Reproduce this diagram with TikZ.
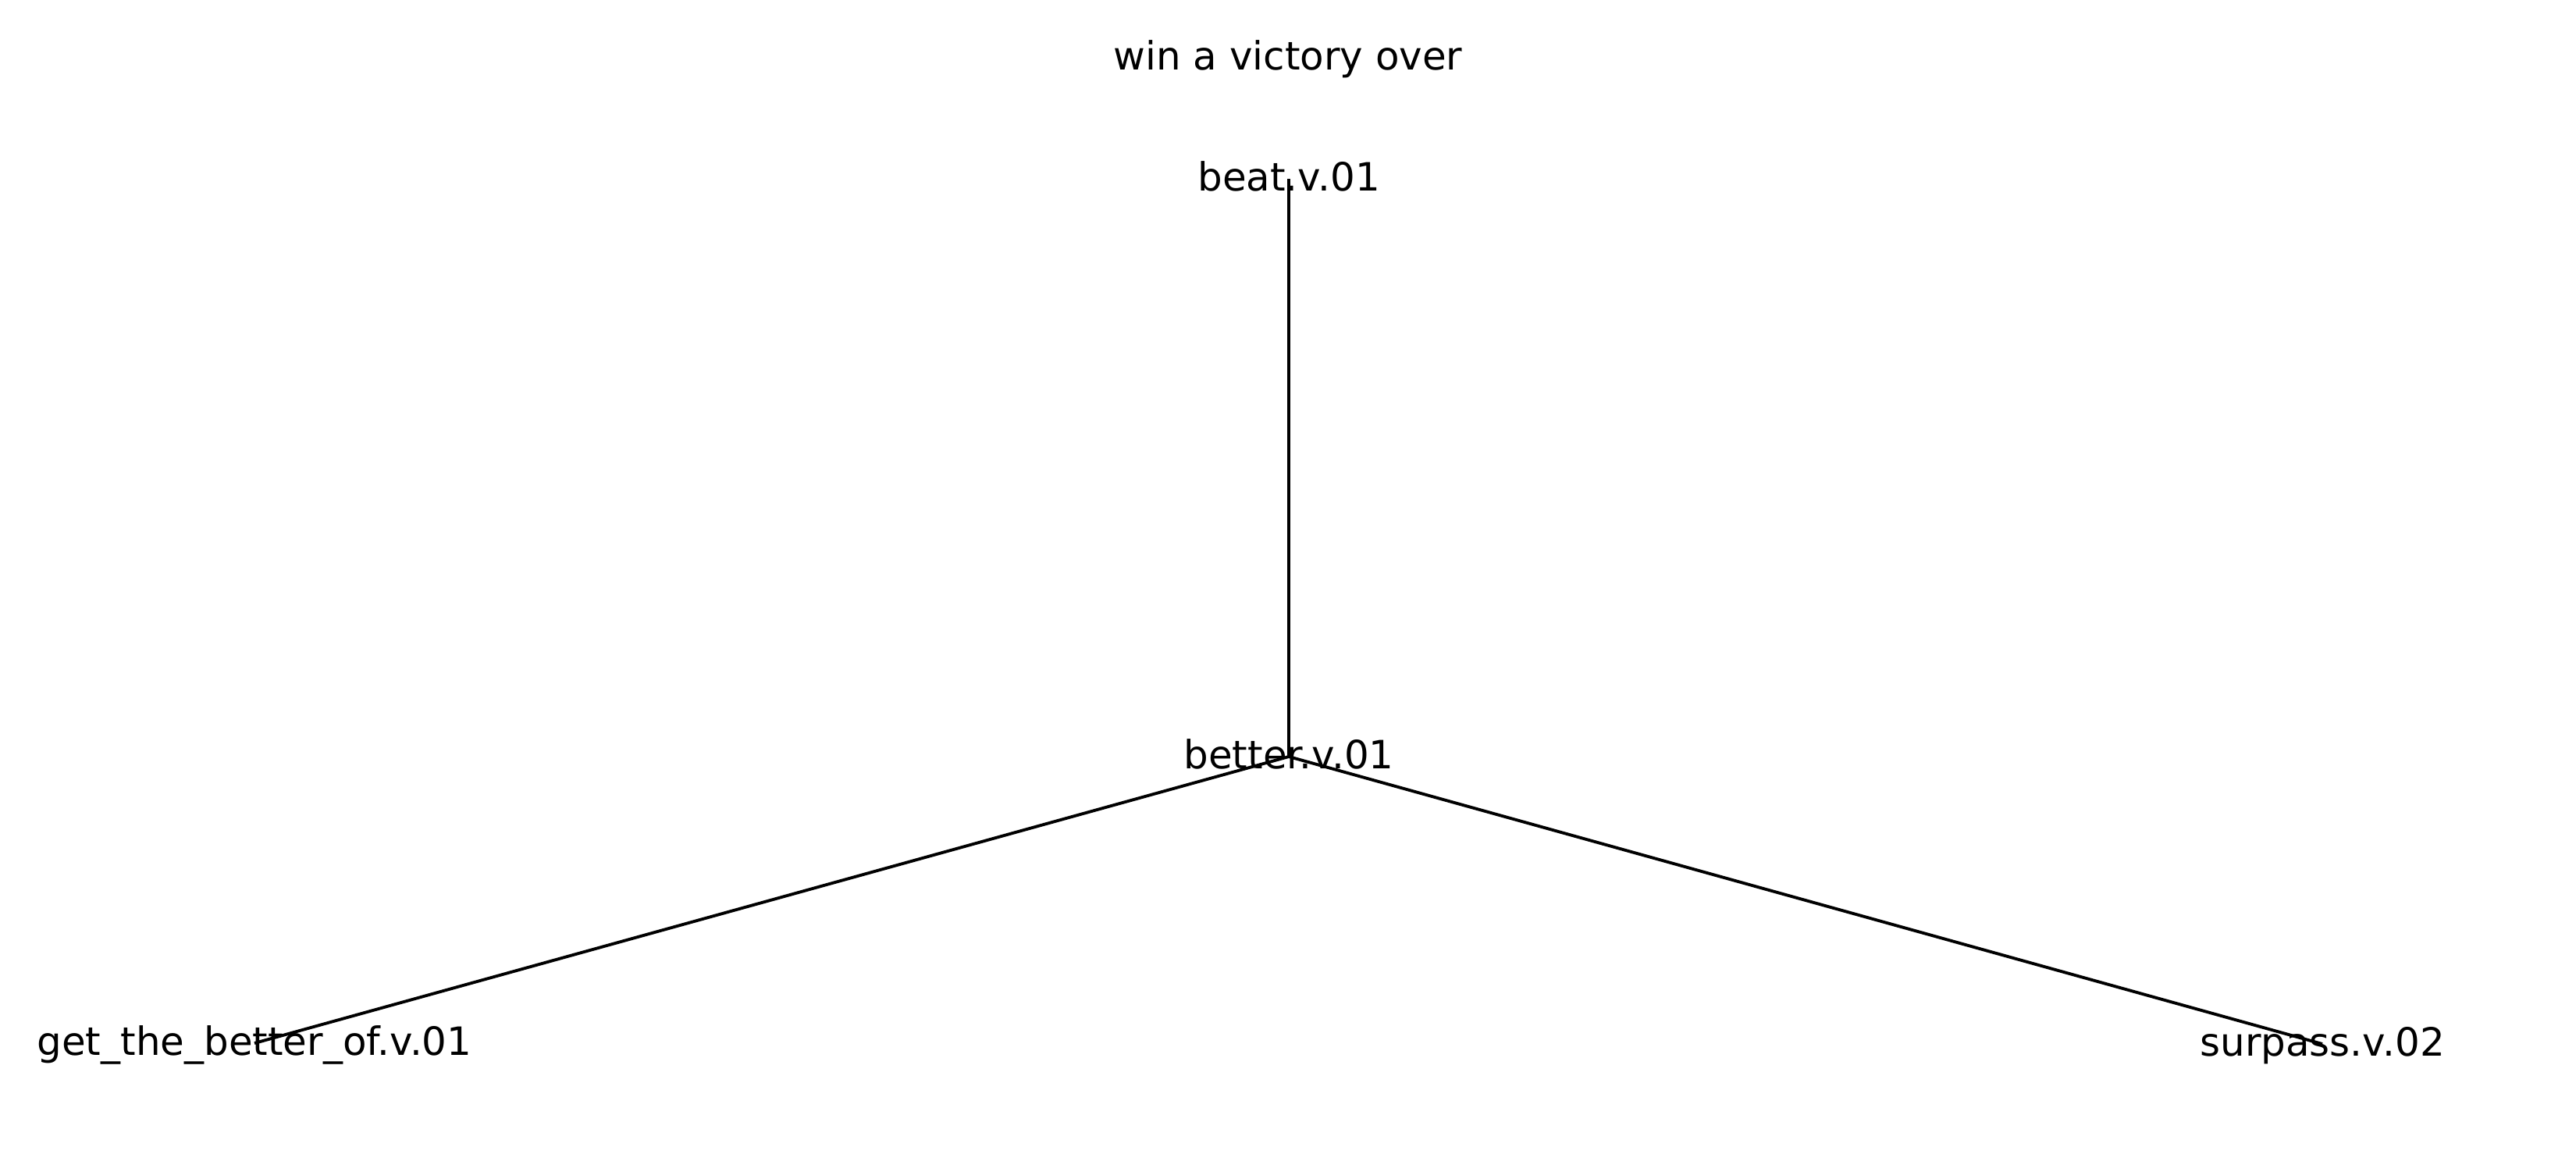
\documentclass[tikz,border=0pt]{standalone}
\usepackage{fontspec}
\setmainfont{DejaVu Sans}

\begin{document}
\begin{tikzpicture}[every node/.style={font=\fontsize{14.2}{17}\selectfont,inner sep=0pt,text height=10.8pt,text depth=2.2pt}]
    \useasboundingbox (0,0) rectangle (33,-15);
    % Title
    \node (title) at (16.5,-0.74) {win a victory over};
    % Synsets
    \foreach \n/\x/\y/\l in {beat/16.51/-2.29/beat.v.01, better/16.51/-9.69/better.v.01, getbetter/3.26/-13.36/get\_the\_better\_of.v.01, surpass/29.75/-13.37/surpass.v.02}{
      \node (\n) at (\x,\y) {\l};
    }
    % Edges
    \draw[line width=1.1pt] (beat.center) -- (better.center);
    \draw[line width=1.1pt] (better.center) -- (getbetter.center);
    \draw[line width=1.1pt] (better.center) -- (surpass.center);
  \end{tikzpicture}
\end{document}
